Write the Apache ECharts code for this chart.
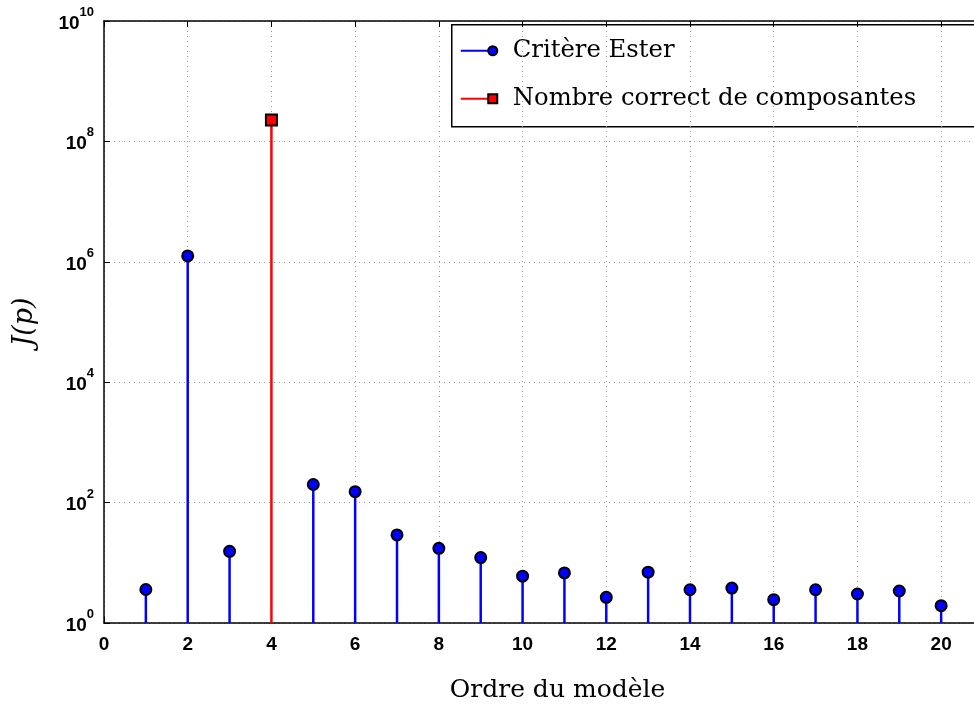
<!DOCTYPE html>
<html>
<head>
<meta charset="utf-8">
<script src="https://cdn.jsdelivr.net/npm/echarts@6/dist/echarts.min.js"></script>
<style>html,body{margin:0;padding:0;background:#fff;}#c{width:974px;height:706px;}</style>
</head>
<body>
<div id="c"></div>
<script>
// Data
const esterOrders = [1, 2, 3, 5, 6, 7, 8, 9, 10, 11, 12, 13, 14, 15, 16, 17, 18, 19, 20];
const esterValues = [3.6, 1.25e6, 15.5, 200, 152, 29, 17.4, 12.2, 6.0, 6.8, 2.67, 7.0, 3.57, 3.8, 2.44, 3.57, 3.03, 3.4, 1.94];
const correctOrders = [4];
const correctValues = [2.27e8];
const seriesNames = ['Critère Ester', 'Nombre correct de composantes'];
const xTicks = [0, 2, 4, 6, 8, 10, 12, 14, 16, 18, 20];
const yExponents = [0, 2, 4, 6, 8, 10];

const esterData = esterOrders.map((x, i) => [x, esterValues[i]]);
const correctData = correctOrders.map((x, i) => [x, correctValues[i]]);

const chart = echarts.init(document.getElementById('c'), null, {renderer: 'canvas'});

function stemRenderer(color) {
  return function (params, api) {
    const top = api.coord([api.value(0), api.value(1)]);
    const bot = api.coord([api.value(0), 1]);
    return {
      type: 'line',
      shape: {x1: top[0], y1: top[1], x2: bot[0], y2: bot[1]},
      style: {stroke: color, lineWidth: 2.5}
    };
  };
}

const tickFont = {fontFamily: 'Liberation Sans', fontWeight: 'bold', color: '#000'};
const serif = 'DejaVu Serif';

const option = {
  animation: false,
  backgroundColor: '#fff',
  grid: {left: 104, top: 21, bottom: 83, right: -9, outerBoundsMode: 'none', containLabel: false, show: false},
  xAxis: [{
    type: 'value', min: 0, max: 21, interval: 2,
    name: 'Ordre du modèle', nameLocation: 'middle', nameGap: 55,
    nameTextStyle: {fontFamily: serif, fontSize: 25, color: '#000', padding: [0, 0, 0, 28]},
    axisLine: {show: true, onZero: false, lineStyle: {color: '#000', width: 1.5}},
    axisTick: {show: true, inside: true, length: 6, lineStyle: {color: '#000'}},
    axisLabel: Object.assign({fontSize: 19, margin: 12, formatter: v => xTicks.includes(v) ? String(v) : ''}, tickFont),
    splitLine: {show: true, lineStyle: {color: '#999', type: [1, 4], width: 1}}
  }, {
    type: 'value', position: 'top', min: 0, max: 21, interval: 2,
    axisLine: {show: true, lineStyle: {color: '#000', width: 1.5}},
    axisTick: {show: true, inside: true, length: 6, lineStyle: {color: '#000'}},
    axisLabel: {show: false}, splitLine: {show: false}
  }],
  yAxis: {
    type: 'log', logBase: 10, min: 1, max: 1e10, interval: 2,
    name: 'J(p)', nameLocation: 'middle', nameGap: 66, nameRotate: 90,
    nameTextStyle: {fontFamily: serif, fontStyle: 'italic', fontSize: 27, color: '#000'},
    axisLine: {show: true, lineStyle: {color: '#000', width: 1.5}},
    axisTick: {show: true, inside: true, length: 6, lineStyle: {color: '#000'}},
    axisLabel: {
      margin: 10,
      formatter: v => {
        const e = Math.round(Math.log10(v));
        return yExponents.includes(e) ? '{b|10}{s|' + e + '}' : '';
      },
      rich: {
        b: Object.assign({fontSize: 19, verticalAlign: 'bottom', lineHeight: 20, padding: [0, 0, 3, 0]}, tickFont),
        s: Object.assign({fontSize: 13, verticalAlign: 'top', lineHeight: 30, padding: [0, 0, 10, 0]}, tickFont)
      }
    },
    splitLine: {show: true, lineStyle: {color: '#999', type: [1, 4], width: 1}}
  },
  series: [
    {name: seriesNames[0] + ' stems', type: 'custom', renderItem: stemRenderer('#0000ff'), data: esterData, z: 2},
    {name: seriesNames[0], type: 'scatter', data: esterData, symbol: 'circle', symbolSize: 11,
     itemStyle: {color: '#0000ff', borderColor: '#000', borderWidth: 2, opacity: 1}, z: 3},
    {name: seriesNames[1] + ' stems', type: 'custom', renderItem: stemRenderer('#ff0000'), data: correctData, z: 2},
    {name: seriesNames[1], type: 'scatter', data: correctData, symbol: 'rect', symbolSize: 11,
     itemStyle: {color: '#ff0000', borderColor: '#000', borderWidth: 2, opacity: 1}, z: 3}
  ],
  graphic: [{
    type: 'group', left: 451, top: 24,
    children: [
      {type: 'rect', shape: {x: 0, y: 0, width: 540, height: 102}, style: {fill: '#fff', stroke: '#000', lineWidth: 1.5}},
      {type: 'line', shape: {x1: 9, y1: 26, x2: 41, y2: 26}, style: {stroke: '#0000ff', lineWidth: 2}},
      {type: 'circle', shape: {cx: 41, cy: 26, r: 4.5}, style: {fill: '#0000ff', stroke: '#000', lineWidth: 2}},
      {type: 'text', x: 61, y: 26, style: {text: seriesNames[0], fontFamily: serif, fontSize: 24.3, fill: '#000', verticalAlign: 'middle'}},
      {type: 'line', shape: {x1: 9, y1: 74, x2: 41, y2: 74}, style: {stroke: '#ff0000', lineWidth: 2}},
      {type: 'rect', shape: {x: 36.5, y: 69.5, width: 9, height: 9}, style: {fill: '#ff0000', stroke: '#000', lineWidth: 2}},
      {type: 'text', x: 61, y: 74, style: {text: seriesNames[1], fontFamily: serif, fontSize: 24.3, fill: '#000', verticalAlign: 'middle'}}
    ]
  }]
};
chart.setOption(option);
</script>
</body>
</html>
